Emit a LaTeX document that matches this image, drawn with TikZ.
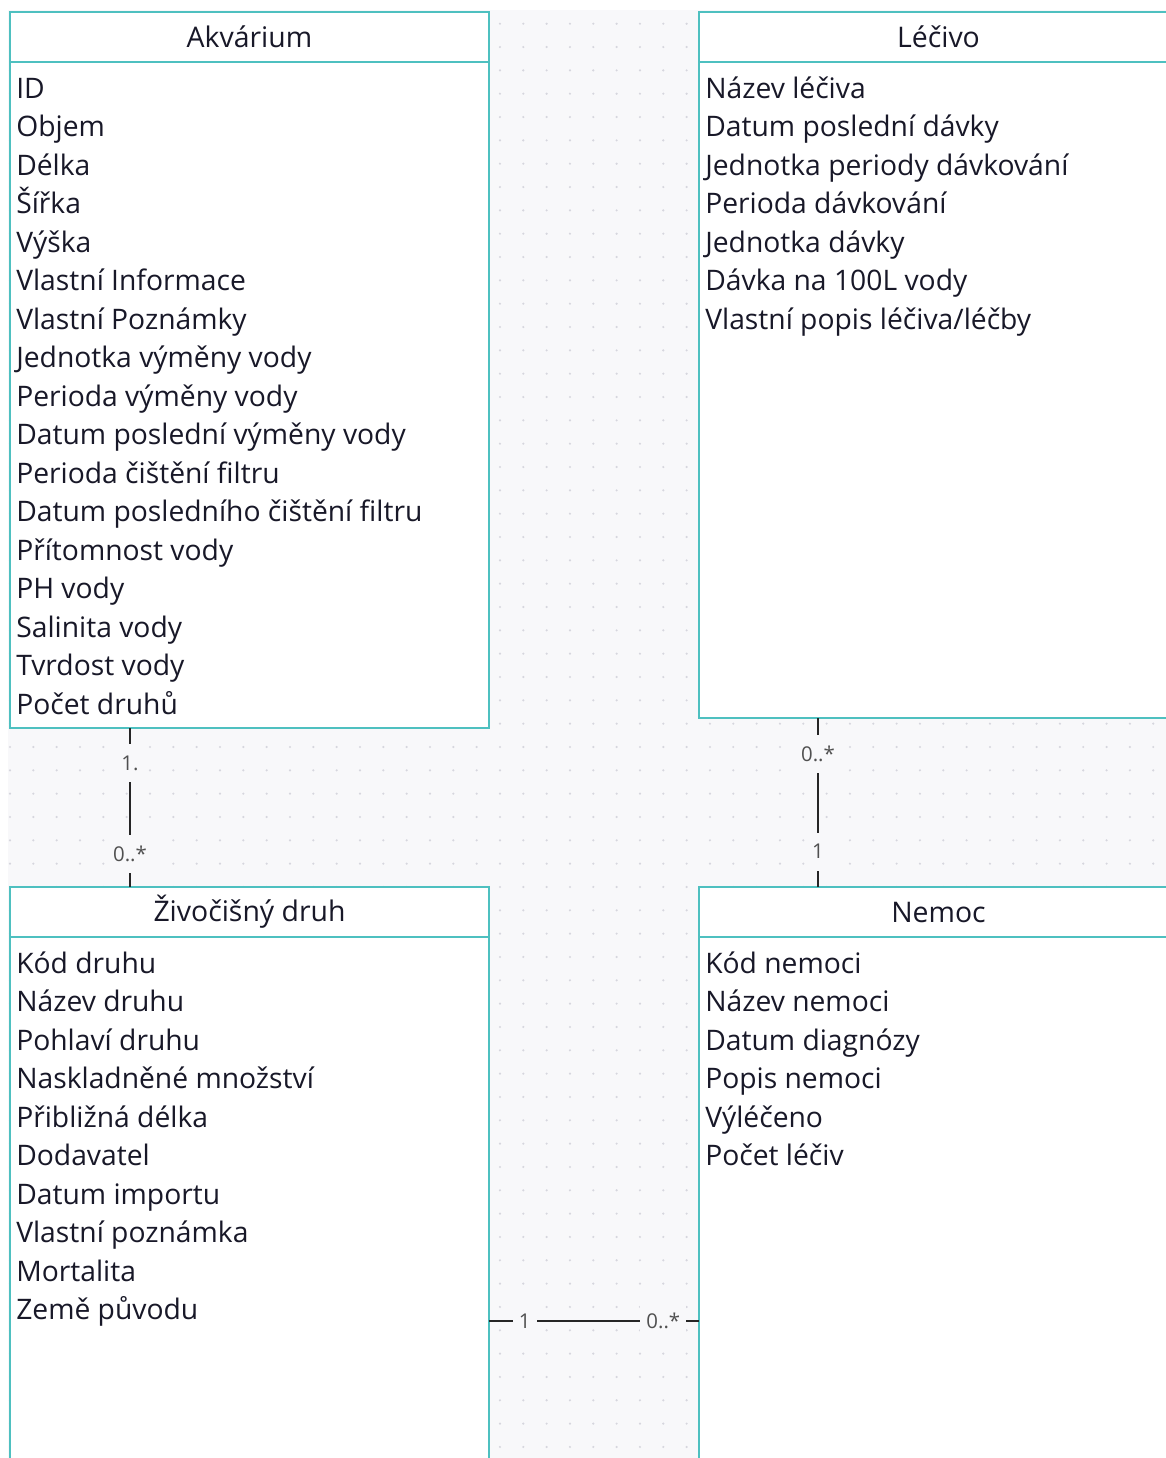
\documentclass[tikz,border=0pt]{standalone}
\usepackage{fontspec}
\setmainfont{Open Sans}
\usetikzlibrary{positioning}
\definecolor{boxTeal}{RGB}{78,192,192}
\definecolor{bgGrey}{RGB}{248,248,250}
\definecolor{dotGrey}{RGB}{214,214,222}
\definecolor{inkDark}{RGB}{24,24,40}
\definecolor{multGrey}{RGB}{80,80,80}

\begin{document}
\begin{tikzpicture}[classHead/.style={draw=boxTeal, line width=1.5pt, fill=white, minimum width=11.975cm, minimum height=1.25cm, inner sep=0pt, outer sep=0pt, text=inkDark, font=\fontsize{20.2pt}{24pt}\selectfont},
										classBody/.style={draw=boxTeal, line width=1.5pt, fill=white, minimum width=11.975cm, inner sep=0pt, outer sep=0pt},
										attrList/.style={align=left, inner sep=0pt, text=inkDark, font=\fontsize{20.1pt}{27.4pt}\selectfont},
										multLabel/.style={fill=bgGrey, text=multGrey, inner xsep=0.15cm, minimum height=0.95cm, font=\fontsize{14.5pt}{17pt}\selectfont},
										assoc/.style={draw=black!85, line width=1.2pt},
										gridDots/.style={dotGrey, line width=0.06cm, line cap=round, dash pattern=on 0pt off 0.5833cm},
										node distance=0.5cm]
					\useasboundingbox (0,0) rectangle (29.15,-36.45);
					% dotted canvas
					\fill[bgGrey] (0.2,-0.25) rectangle (29.15,-36.45);
					\foreach \k in {0,...,61}
						\draw[gridDots] (0.25,{-0.5925-0.5833*\k}) -- (29.15,{-0.5925-0.5833*\k});
					
					\node[classHead] (akv) at (6.2375,-0.925) {Akvárium};
					\node[classBody, minimum height=16.65cm, below=0pt of akv] (akvBody) {};
					\node[attrList, below right=0.22cm and 0.15cm of akvBody.north west] (akvAttr) {\strut ID\\Objem\\Délka\\Šířka\\Výška\\Vlastní Informace\\Vlastní Poznámky\\Jednotka výměny vody\\Perioda výměny vody\\Datum poslední výměny vody\\Perioda čištění filtru\\Datum posledního čištění filtru\\Přítomnost vody\\PH vody\\Salinita vody\\Tvrdost vody\\Počet druhů};
					
					\node[classHead, right=5.25cm of akv] (lec) {Léčivo};
					\node[classBody, minimum height=16.4cm, below=0pt of lec] (lecBody) {};
					\node[attrList, below right=0.22cm and 0.15cm of lecBody.north west] (lecAttr) {\strut Název léčiva\\Datum poslední dávky\\Jednotka periody dávkování\\Perioda dávkování\\Jednotka dávky\\Dávka na 100L vody\\Vlastní popis léčiva/léčby};
					
					\node[classHead, below=3.975cm of akvBody] (ziv) {Živočišný druh};
					\node[classBody, minimum height=14cm, below=0pt of ziv] (zivBody) {};
					\node[attrList, below right=0.22cm and 0.15cm of zivBody.north west] (zivAttr) {\strut Kód druhu\\Název druhu\\Pohlaví druhu\\Naskladněné množství\\Přibližná délka\\Dodavatel\\Datum importu\\Vlastní poznámka\\Mortalita\\Země původu};
					
					\node[classHead, below=4.225cm of lecBody] (nem) {Nemoc};
					\node[classBody, minimum height=14cm, below=0pt of nem] (nemBody) {};
					\node[attrList, below right=0.22cm and 0.15cm of nemBody.north west] (nemAttr) {\strut Kód nemoci\\Název nemoci\\Datum diagnózy\\Popis nemoci\\Výléčeno\\Počet léčiv};
					
					\draw[assoc] ([xshift=3cm]akvBody.south west) -- ([xshift=3cm]ziv.north west)
						node[multLabel, pos=0.22] {1.} node[multLabel, pos=0.79] {0..*};
					\draw[assoc] ([xshift=2.975cm]lecBody.south west) -- ([xshift=2.975cm]nem.north west)
						node[multLabel, pos=0.21] {0..*} node[multLabel, pos=0.79] {1};
					\draw[assoc] ([yshift=-10.85cm]ziv.north east) -- ([yshift=-10.85cm]nem.north west)
						node[multLabel, pos=0.17] {1} node[multLabel, pos=0.83] {0..*};
				\end{tikzpicture}
\end{document}
